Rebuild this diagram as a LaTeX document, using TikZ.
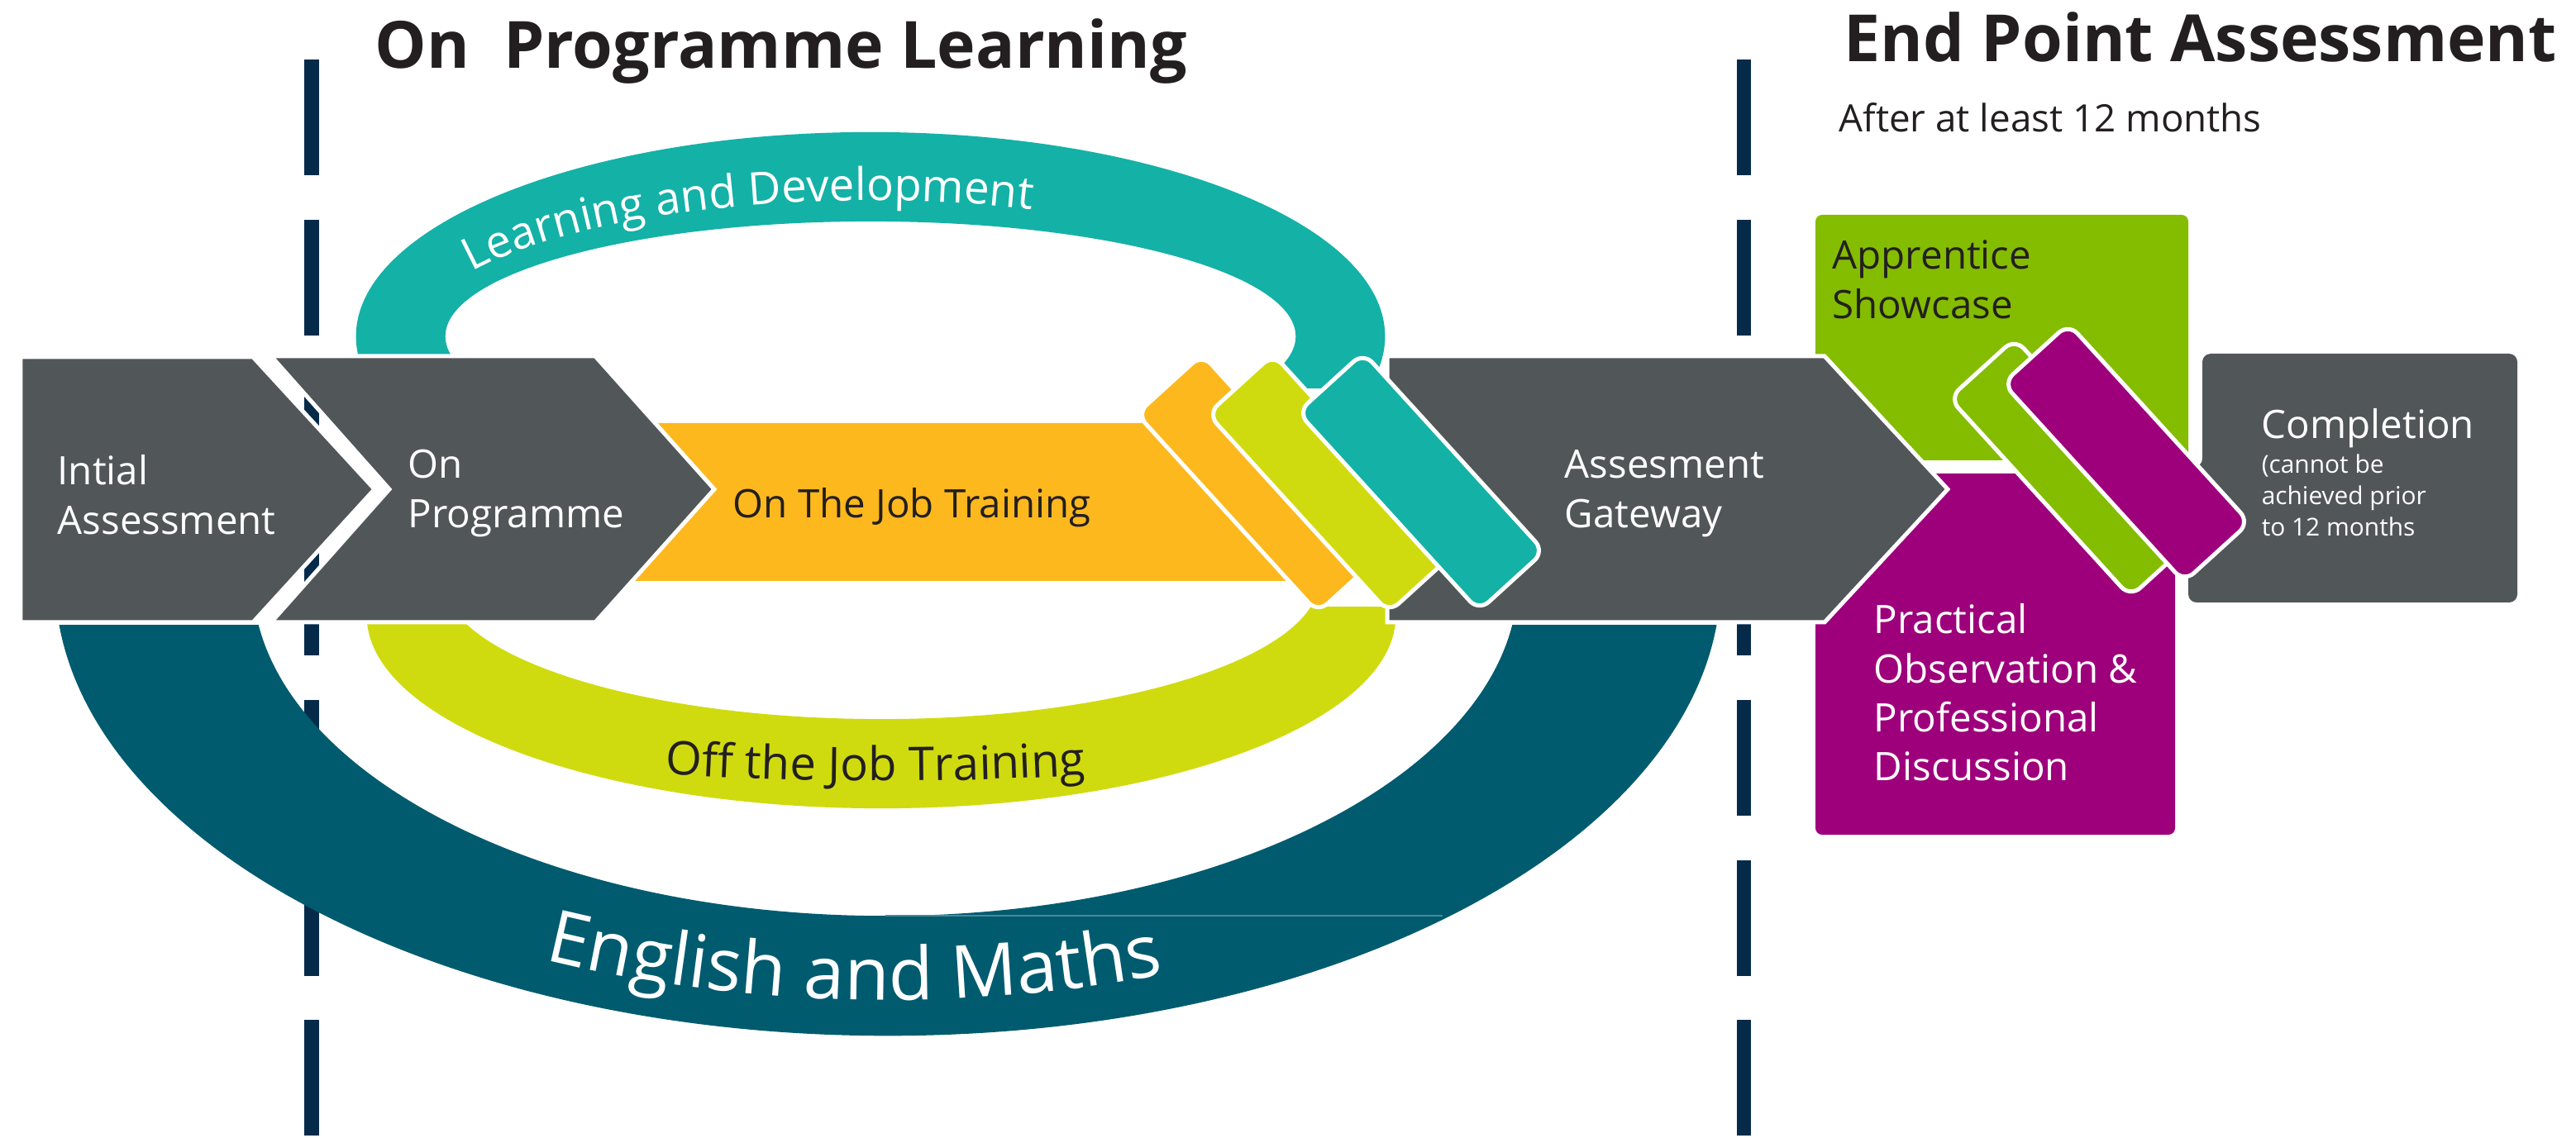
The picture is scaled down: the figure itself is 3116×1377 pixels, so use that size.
\documentclass[tikz,border=0pt]{standalone}
\usepackage{fontspec}
\setmainfont{Open Sans}
\usetikzlibrary{decorations.text}
\definecolor{cgray}{HTML}{515659}
\definecolor{corange}{HTML}{FDB81E}
\definecolor{cyellow}{HTML}{D0DB0F}
\definecolor{cteal}{HTML}{14B1A7}
\definecolor{cdeep}{HTML}{005B6F}
\definecolor{cgreen}{HTML}{84BC00}
\definecolor{cpurple}{HTML}{9E007C}
\definecolor{cnavy}{HTML}{062B4A}
\definecolor{cdark}{HTML}{231F20}
\definecolor{cthin}{HTML}{4F8796}
\newcommand\mlines[1]{\vtop{\halign{##\hfil\cr#1\crcr}}}
\begin{document}
\begin{tikzpicture}[x=0.01cm,y=0.01cm,
  chevron/.style={fill=cgray, draw=white, line width=1.42pt, line join=miter},
  para/.style={draw=white, line width=1.42pt, rounded corners=0.16cm, minimum width=3.25cm, minimum height=1.07cm, inner sep=0pt, rotate=-47.7},
  dashline/.style={draw=cnavy, line width=4.84pt, dash pattern=on 1.4cm off 0.536cm},
  boxtext/.style={inner sep=0pt, anchor=base west, font=\fontsize{13.5}{16.8}\selectfont},
  titletext/.style={inner sep=0pt, anchor=base west, text=cdark, font=\fontsize{22.4}{27}\selectfont\bfseries}]
\useasboundingbox (0,0) rectangle (3116,-1377);

% dashed dividers
\coordinate (dLa) at (377,-72);
\coordinate (dLb) at (377,-1377);
\coordinate (dRa) at (2109.5,-72);
\coordinate (dRb) at (2109.5,-1377);
\draw[dashline] (dLa) -- (dLb);
\draw[dashline] (dRa) -- (dRb);

% rings
\begin{scope}
  \clip (0,0) rectangle (3116,-470);
  \fill[cteal, even odd rule] (1053,-407) ellipse[x radius=6.22cm, y radius=2.47cm]
                              (1053,-407) ellipse[x radius=5.14cm, y radius=1.39cm];
\end{scope}
\begin{scope}
  \clip (0,-735) rectangle (3116,-1377);
  \fill[cyellow, even odd rule] (1066,-745) ellipse[x radius=6.22cm, y radius=2.33cm]
                                (1066,-700) ellipse[x radius=5.30cm, y radius=1.70cm];
\end{scope}
\begin{scope}
  \clip (0,-757) rectangle (3116,-1377);
  \fill[cdeep, even odd rule] (1074,-700) ellipse[x radius=10.07cm, y radius=5.53cm]
                              (1071,-700) ellipse[x radius=7.65cm, y radius=4.08cm];
\end{scope}
\coordinate (thA) at (1071,-1108);
\coordinate (thB) at (1745,-1108);
\draw[cthin, line width=0.3pt] (thA) -- (thB);

% texts along the rings
\path[decorate, decoration={text along path, text color=white,
   text={|\fontsize{15.5}{15.5}\selectfont|Learning and Development}}]
   (570.4,-328.9) arc[start angle=151.5, end angle=30, x radius=5.5cm, y radius=1.65cm];
\path[decorate, decoration={text along path, text color=cdark,
   text={|\fontsize{16}{16}\selectfont|Off the Job Training}}]
   (804.4,-936.9) arc[start angle=253.1, end angle=320, x radius=9cm, y radius=1.87cm];
\path[decorate, decoration={text along path, text color=white,
   text={|\fontsize{25.2}{25.2}\selectfont|English and Maths}}]
   (658.8,-1161.4) arc[start angle=244.8, end angle=330, x radius=9.75cm, y radius=5.1cm];

% on the job training band
\fill[corange] (700,-512) -- (1400,-512) -- (1570,-703) -- (700,-703) -- cycle;

% EPA boxes under the gateway
\fill[cgreen, rounded corners=0.08cm] (2196,-557) -- (2196,-260) -- (2647,-260) -- (2647,-557) -- cycle;
\fill[cpurple, rounded corners=0.08cm] (2196,-573) -- (2631,-573) -- (2631,-1010) -- (2196,-1010) -- cycle;

% chevrons
\draw[chevron] (25,-432) -- (306,-432) -- (453,-592) -- (306,-753) -- (25,-753) -- cycle;
\draw[chevron] (328,-431) -- (720,-431) -- (864,-592) -- (720,-753) -- (328,-753) -- (471,-592) -- cycle;
\draw[chevron] (1678,-431) -- (2207,-431) -- (2356,-592) -- (2207,-753) -- (1678,-753) -- cycle;

% tilted tabs
\node[para, fill=corange] (pO) at (1524,-585) {};
\node[para, fill=cyellow] (pY) at (1610,-585) {};
\node[para, fill=cteal] (pT) at (1719,-583) {};

% completion box
\fill[cgray, rounded corners=0.1cm] (2664,-428) -- (3045,-428) -- (3045,-729) -- (2647,-729) -- (2647,-565) -- (2664,-565) -- cycle;

% EPA tabs
\node[para, fill=cgreen] (pG) at (2507,-566) {};
\node[para, fill=cpurple] (pP) at (2572,-548) {};

% titles
\node[titletext] (tOPL) at (453,-83) {On\ \ Programme Learning};
\node[titletext] (tEPA) at (2230,-75) {End Point Assessment};
\node[inner sep=0pt, anchor=base west, text=cdark, font=\fontsize{13}{16}\selectfont] (tAfter) at (2224,-160) {After at least 12 months};

% box texts
\node[boxtext, text=white] (tInit) at (69,-587) {\mlines{Intial\cr Assessment}};
\node[boxtext, text=white] (tOnP) at (493,-579) {\mlines{On\cr Programme}};
\node[boxtext, text=cdark] (tOJT) at (886,-627) {On The Job Training};
\node[boxtext, text=white] (tGate) at (1892,-579) {\mlines{Assesment\cr Gateway}};
\node[boxtext, text=cdark] (tShow) at (2216,-326) {\mlines{Apprentice\cr Showcase}};
\node[boxtext, text=white] (tPrac) at (2266,-767) {\mlines{Practical\cr Observation \&\cr Professional\cr Discussion}};
\node[boxtext, text=white] (tComp) at (2735,-531) {Completion};
\node[inner sep=0pt, anchor=base west, text=white, font=\fontsize{8.5}{10.8}\selectfont] (tCompSub) at (2735,-573) {\mlines{(cannot be\cr achieved prior\cr to 12 months}};
\end{tikzpicture}
\end{document}
